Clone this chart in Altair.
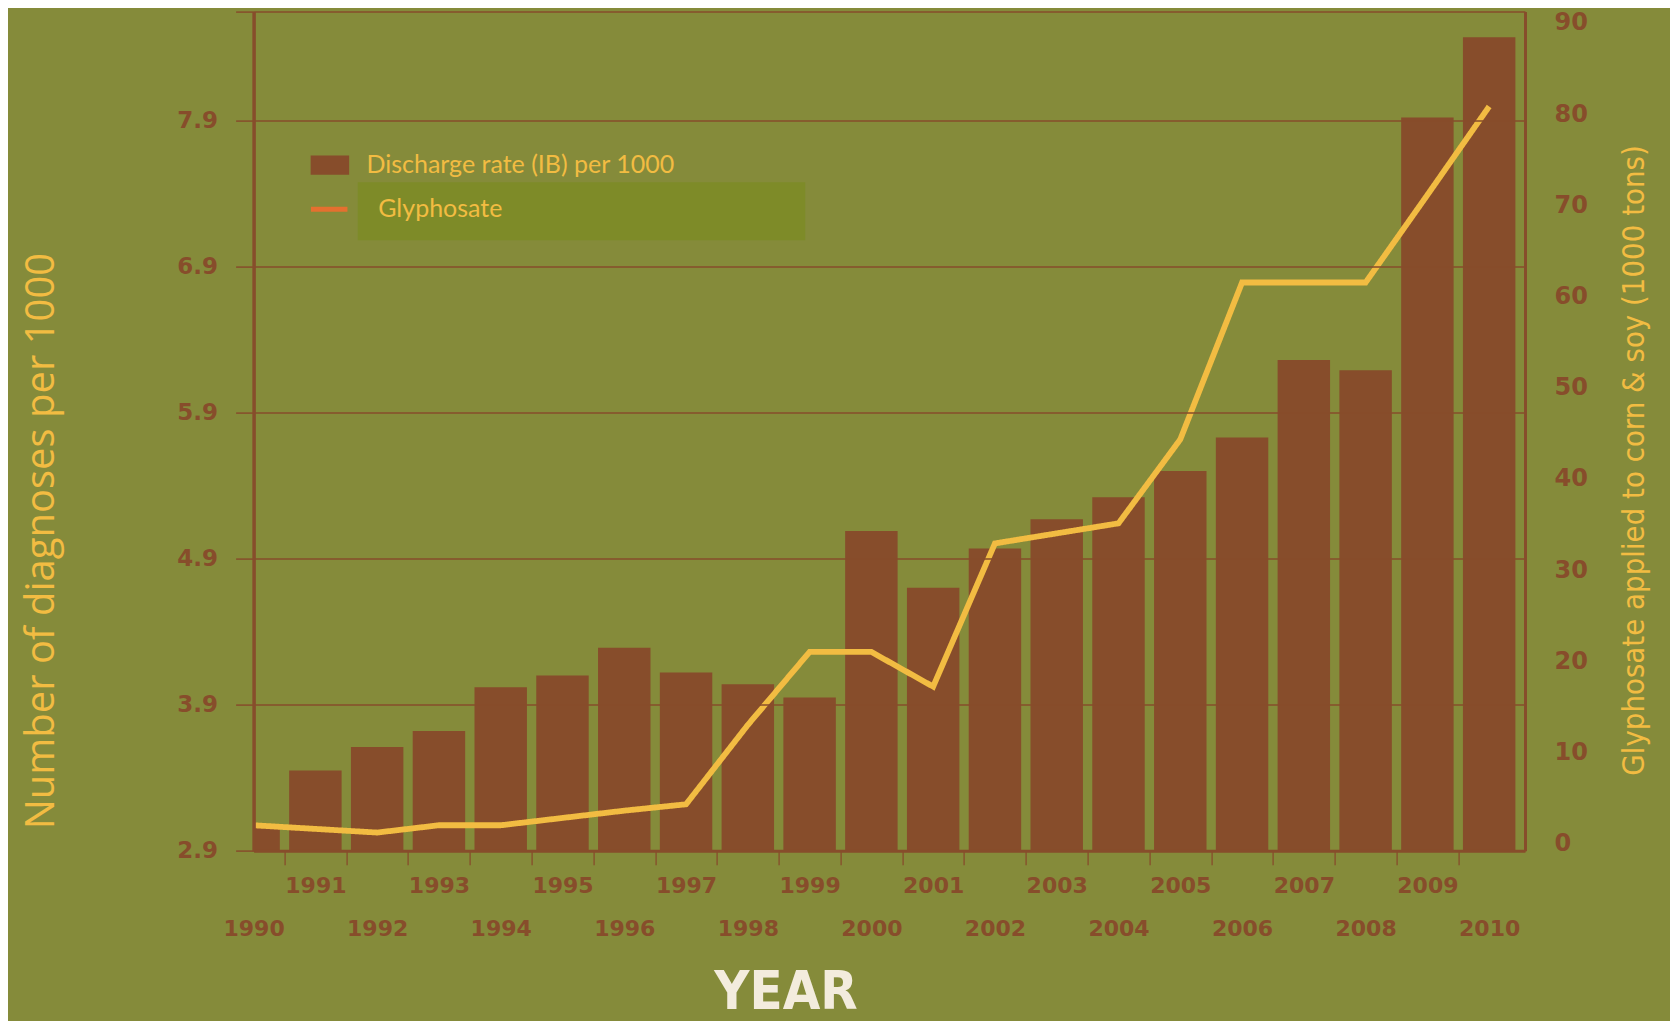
import altair as alt
import pandas as pd

# ---- data ----
years = list(range(1990, 2011))
discharge_rate = [3.07, 3.45, 3.61, 3.72, 4.02, 4.10, 4.29, 4.12, 4.04, 3.95,
                  5.09, 4.70, 4.97, 5.17, 5.32, 5.50, 5.73, 6.26, 6.19, 7.92, 8.47]
glyphosate = [2.8, 2.4, 2.0, 2.8, 2.8, 3.6, 4.4, 5.1, 13.8, 21.8,
              21.8, 18.0, 33.7, 34.8, 35.9, 45.1, 62.3, 62.3, 62.3, 71.9, 81.6]
left_ticks = [2.9, 3.9, 4.9, 5.9, 6.9, 7.9]
right_ticks = [0, 10, 20, 30, 40, 50, 60, 70, 80, 90]
odd_years = list(range(1991, 2010, 2))
even_years = list(range(1990, 2011, 2))
tick_years = [y + 0.5 for y in range(1990, 2010)]

bar_label = "Discharge rate (IB) per 1000"
line_label = "Glyphosate"

# ---- styling ----
BG = "#858B3A"
BROWN = "#874D2B"
YELLOW = "#F2BC42"
ORANGE = "#E5702F"
BOX = "#7E8B28"
CREAM = "#F3ECDD"

TOP = 3.6
W, H = 1271.4, 839.2
TOTAL_H = 1013
PAD = {"left": 245.6, "top": TOP, "right": 145, "bottom": TOTAL_H - TOP - H}
DY = TOP - 0.6  # shift of the plot top relative to the reference

df = pd.DataFrame({"year": years, "rate": discharge_rate, "glyph": glyphosate})
df["bar_series"] = bar_label
df["line_series"] = line_label
df["box_series"] = line_label + " box"

xscale = alt.Scale(domain=[1990, 2010.58], nice=False, zero=False)

label_font = "DejaVu Sans"
narrow_font = "Liberation Sans Narrow, DejaVu Sans Condensed, Roboto"

bars = alt.Chart(df).transform_calculate(
    x0="datum.year - 0.4245", x1="datum.year + 0.4245"
).mark_bar(clip=True).encode(
    x=alt.X("x0:Q", scale=xscale,
            axis=alt.Axis(values=tick_years, labels=False, orient="bottom", grid=False,
                          domainColor=BROWN, domainWidth=3, tickColor=BROWN, tickWidth=1.3,
                          tickSize=14, title=None, zindex=1)),
    x2="x1:Q",
    y=alt.Y("rate:Q", scale=alt.Scale(domain=[2.9, 8.645], nice=False, zero=False),
            axis=alt.Axis(values=left_ticks + [8.645], orient="left",
                          labelExpr="datum.value > 8.5 ? '' : format(datum.value, '.1f')",
                          labelFont=label_font, labelFontWeight="bold", labelFontSize=23,
                          labelColor=BROWN, labelPadding=18, labelOverlap=False,
                          tickSize=18, tickColor=BROWN, tickWidth=1.5,
                          domainColor=BROWN, domainWidth=3.5,
                          grid=True, gridColor=BROWN, gridWidth=1.5,
                          title="Number of diagnoses per 1000", titleColor=YELLOW,
                          titleFont="Open Sans", titleFontSize=40, titleFontWeight="normal",
                          titleX=-212, titleY=532 - DY, titleBaseline="middle",
                          titleAlign="center", zindex=1)),
    y2=alt.Y2(datum=2.9),
    fill=alt.Fill("bar_series:N", scale=alt.Scale(range=[BROWN]),
                  legend=alt.Legend(orient="none", legendX=56.8, legendY=137.1 - DY, title=None,
                                    symbolType="M-1,-0.5H1V0.5H-1Z", symbolSize=1482,
                                    symbolStrokeWidth=0, labelFont="Lato", labelFontSize=25,
                                    labelColor=YELLOW, labelOffset=17, labelLimit=0, padding=0,
                                    zindex=1)),
)

line = alt.Chart(df).mark_line(strokeWidth=5.8, clip=True, color=YELLOW).encode(
    x=alt.X("year:Q", scale=xscale,
            axis=alt.Axis(values=odd_years, format="d", orient="bottom", ticks=False,
                          domain=False, grid=False,
                          labelPadding=25, labelFont=label_font, labelFontWeight="bold",
                          labelFontSize=22, labelColor=BROWN, labelFlush=False,
                          labelOverlap=False, title=None)),
    y=alt.Y("glyph:Q", scale=alt.Scale(domain=[0, 92], nice=False),
            axis=alt.Axis(orient="right", values=right_ticks, ticks=False, grid=False,
                          domainColor=BROWN, domainWidth=3, labelPadding=29,
                          labelAlign="left", labelBaseline="alphabetic",
                          labelFont=label_font, labelFontWeight="bold", labelFontSize=24,
                          labelColor=BROWN, labelOverlap=False, labelFlush=False,
                          title="Glyphosate applied to corn & soy (1000 tons)",
                          titleColor=YELLOW, titleFont=narrow_font,
                          titleFontSize=30.8, titleFontWeight="normal", titleAngle=270,
                          titleX=109, titleY=451.4 - DY, titleBaseline="middle",
                          titleAlign="center", zindex=1)),
    # highlight box behind the "Glyphosate" legend entry
    strokeDash=alt.StrokeDash("box_series:N", scale=alt.Scale(range=[[1, 0]]),
                              legend=alt.Legend(orient="none", legendX=103.9, legendY=-21.4 - DY,
                                                title=None, symbolType="M-1,-0.1296H1V0.1296H-1Z",
                                                symbolSize=200256, symbolFillColor=BOX,
                                                symbolStrokeColor=BOX, symbolStrokeWidth=0,
                                                symbolOpacity=1, labelExpr="''", labelOffset=0,
                                                padding=0, zindex=0)),
)

even_axis = alt.Chart(df).mark_point(opacity=0).encode(
    x=alt.X("year:Q", scale=xscale,
            axis=alt.Axis(values=even_years, format="d", orient="bottom", ticks=False,
                          domain=False, grid=False,
                          labelPadding=68, labelFont=label_font, labelFontWeight="bold",
                          labelFontSize=22, labelColor=BROWN, labelFlush=False,
                          labelOverlap=False, title="YEAR", titleColor=CREAM,
                          titleFont=narrow_font, titleFontSize=54, titleFontWeight="bold",
                          titleX=531.9, titleY=158, titleBaseline="alphabetic",
                          titleAlign="center")),
    y=alt.Y("glyph:Q", axis=None),
    stroke=alt.Stroke("line_series:N", scale=alt.Scale(range=[ORANGE]),
                      legend=alt.Legend(orient="none", legendX=54.6, legendY=179.6 - DY,
                                        title=None, symbolType="stroke", symbolSize=1332,
                                        symbolStrokeWidth=5, symbolOpacity=1,
                                        labelFont="Lato", labelFontSize=25, labelColor=YELLOW,
                                        labelOffset=28, labelLimit=0, padding=0, zindex=1)),
)

chart = alt.layer(bars, line, even_axis).resolve_scale(
    y="independent"
).resolve_axis(
    x="independent", y="independent"
).properties(
    width=W, height=H, padding=PAD,
    autosize=alt.AutoSizeParams(type="none"),
    background=BG,
).configure_view(strokeWidth=0)

chart.save("out.html", embed_options={"renderer": "svg", "actions": False})
